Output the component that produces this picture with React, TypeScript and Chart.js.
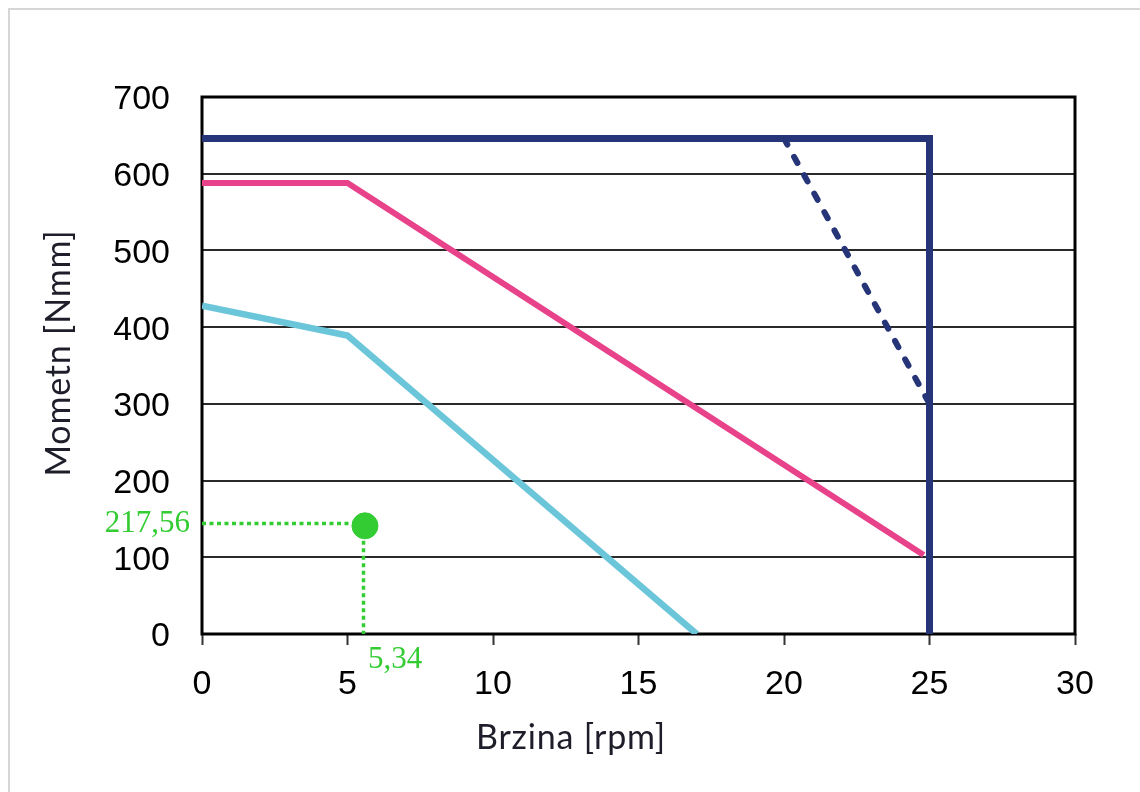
import React, { useEffect, useRef } from 'react';
import { Chart, registerables } from 'chart.js';
Chart.register(...registerables);

// ---- data ----
const xTicks = [0, 5, 10, 15, 20, 25, 30];
const yTicks = [0, 100, 200, 300, 400, 500, 600, 700];

const navyX = [0, 25, 25];
const navyY = [646, 646, 0];

const dashX = [20, 25];
const dashY = [646, 300];

const pinkX = [0, 5, 24.8];
const pinkY = [588, 588, 103];

const cyanX = [0, 5, 17];
const cyanY = [428, 389, 0];

const pointX = [5.6];
const pointY = [141];
const pointLabelY = '217,56';
const pointLabelX = '5,34';

const xTitle = 'Brzina [rpm]';
const yTitle = 'Mometn [Nmm]';

const zip = (xs: number[], ys: number[]) => xs.map((x, i) => ({ x, y: ys[i] }));

const GREEN = '#33cc33';

export default function App() {
  const ref = useRef<HTMLCanvasElement>(null);
  useEffect(() => {
    const decor = {
      id: 'decor',
      beforeDraw(chart: any) {
        const ctx = chart.ctx;
        ctx.save();
        ctx.fillStyle = '#ffffff';
        ctx.fillRect(0, 0, chart.width, chart.height);
        ctx.fillStyle = '#d6d6d6';
        ctx.fillRect(8, 8, 2, chart.height - 8);
        ctx.fillRect(8, 8, chart.width - 8, 2);
        ctx.restore();
      },
      beforeDatasetsDraw(chart: any) {
        const { ctx, chartArea: a } = chart;
        ctx.save();
        ctx.strokeStyle = '#000';
        ctx.lineWidth = 3;
        ctx.strokeRect(a.left, a.top, a.right - a.left, a.bottom - a.top);
        ctx.restore();
      },
      afterDraw(chart: any) {
        const { ctx } = chart;
        ctx.save();
        ctx.fillStyle = '#1e1e2a';
        ctx.font = '34px Lato';
        try { (ctx as any).letterSpacing = '0.8px'; } catch (e) {}
        ctx.textAlign = 'center';
        ctx.textBaseline = 'middle';
        ctx.fillText(xTitle, 571, 738);
        ctx.translate(59, 353);
        ctx.rotate(-Math.PI / 2);
        ctx.fillText(yTitle, 0, 0);
        ctx.restore();

        ctx.save();
        ctx.fillStyle = GREEN;
        ctx.font = '31px "Liberation Serif"';
        ctx.textBaseline = 'middle';
        ctx.textAlign = 'right';
        ctx.fillText(pointLabelY, 190, 524);
        ctx.textAlign = 'left';
        ctx.fillText(pointLabelX, 368, 660);
        ctx.restore();
      },
    };

    const chart = new Chart(ref.current!, {
      type: 'scatter',
      data: {
        datasets: [
          {
            data: zip(pointX, pointY),
            backgroundColor: GREEN,
            borderColor: GREEN,
            pointRadius: 13,
            showLine: false,
            order: 0,
          },
          {
            data: [
              { x: 0, y: pointY[0] + 3 },
              { x: pointX[0], y: pointY[0] + 3 },
            ],
            borderColor: GREEN,
            borderWidth: 3.5,
            borderDash: [4, 3.5],
            pointRadius: 0,
            showLine: true,
            order: 1,
          },
          {
            data: [
              { x: pointX[0] - 0.05, y: pointY[0] },
              { x: pointX[0] - 0.05, y: 0 },
            ],
            borderColor: GREEN,
            borderWidth: 3.5,
            borderDash: [4, 3.5],
            pointRadius: 0,
            showLine: true,
            order: 1,
          },
          {
            data: zip(navyX, navyY),
            borderColor: '#263478',
            borderWidth: 7,
            pointRadius: 0,
            showLine: true,
            borderJoinStyle: 'miter',
            order: 2,
          },
          {
            data: zip(dashX, dashY),
            borderColor: '#263478',
            borderWidth: 6,
            borderDash: [7, 14],
            borderCapStyle: 'round',
            pointRadius: 0,
            showLine: true,
            order: 3,
          },
          {
            data: zip(pinkX, pinkY),
            borderColor: '#e8428a',
            borderWidth: 6,
            pointRadius: 0,
            showLine: true,
            order: 4,
          },
          {
            data: zip(cyanX, cyanY),
            borderColor: '#6cc6da',
            borderWidth: 6.5,
            pointRadius: 0,
            showLine: true,
            order: 5,
          },
        ],
      },
      options: {
        responsive: false,
        animation: false,
        devicePixelRatio: 1,
        layout: { padding: { top: 97, right: 65, left: 0, bottom: 0 } },
        plugins: { legend: { display: false }, tooltip: { enabled: false } },
        scales: {
          x: {
            type: 'linear',
            min: 0,
            max: 30,
            afterBuildTicks: (s: any) => {
              s.ticks = xTicks.map((v) => ({ value: v }));
            },
            afterFit: (s: any) => {
              s.height = 158;
            },
            ticks: {
              font: { family: 'Liberation Sans', size: 34 },
              color: '#000',
              padding: 19,
              maxRotation: 0,
            },
            grid: {
              drawOnChartArea: false,
              drawTicks: true,
              tickLength: 11,
              tickWidth: 2,
              tickColor: '#333',
            },
            border: { display: false },
          },
          y: {
            type: 'linear',
            min: 0,
            max: 700,
            afterBuildTicks: (s: any) => {
              s.ticks = yTicks.map((v) => ({ value: v }));
            },
            afterFit: (s: any) => {
              s.width = 202;
            },
            ticks: {
              font: { family: 'Liberation Sans', size: 34 },
              color: '#000',
              padding: 32,
              labelOffset: 3,
            },
            grid: {
              color: '#2a2a2a',
              lineWidth: 2,
              drawTicks: false,
            },
            border: { display: false },
          },
        },
      },
      plugins: [decor],
    } as any);
    return () => chart.destroy();
  }, []);

  return (
    <div style={{ position: 'fixed', left: 0, top: 0, width: 1140, height: 792, background: '#fff' }}>
      <canvas ref={ref} width={1140} height={792} style={{ display: 'block' }} />
    </div>
  );
}
